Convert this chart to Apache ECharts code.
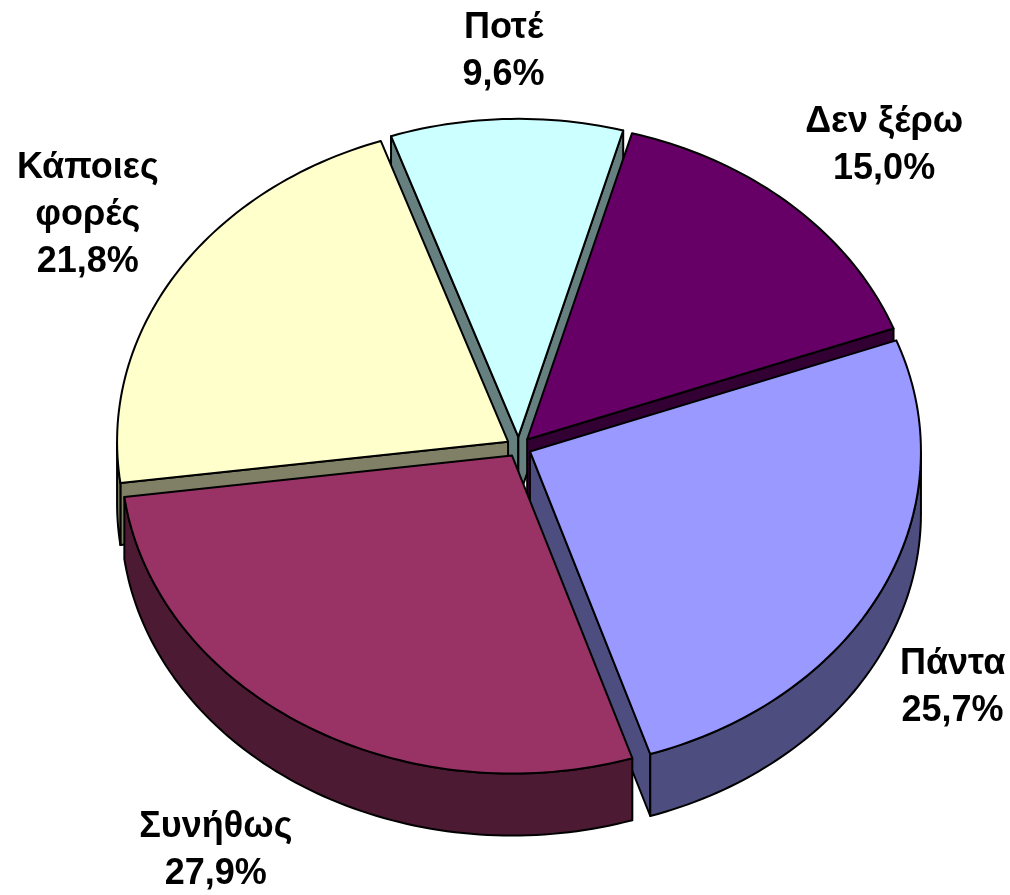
<!DOCTYPE html>
<html><head><meta charset="utf-8">
<script src="https://cdn.jsdelivr.net/npm/echarts@6/dist/echarts.min.js"></script>
<style>html,body{margin:0;padding:0;background:#fff}#c{width:1010px;height:895px}</style>
</head><body><div id="c"></div>
<script>
const categories = ['Ποτέ', 'Δεν ξέρω', 'Πάντα', 'Συνήθως', 'Κάποιες φορές'];
const values = [9.6, 15.0, 25.7, 27.9, 21.8];
const topColors = ['#CCFFFF', '#660066', '#9999FF', '#993366', '#FFFFCC'];
const sideColors = ['#668080', '#330033', '#4D4D80', '#4D1A33', '#808066'];

const chart = echarts.init(document.getElementById('c'), null, {renderer: 'canvas'});
const total = values.reduce((a, b) => a + b, 0);
const START = -19;            // first slice start, degrees clockwise from 12 o'clock
const CX = 518.7, CY = 447, RX = 391, RY = 318, DEPTH = 62, EXPLODE = 12.5;
const FONT_SIZE = 36, LINE_H = 47;
const FONT_FAMILY = 'Arial, "Liberation Sans", sans-serif';
const mctx = document.createElement('canvas').getContext('2d');
mctx.font = 'bold ' + FONT_SIZE + 'px ' + FONT_FAMILY;

const rad = d => d * Math.PI / 180;
const clamp = v => Math.max(-1, Math.min(1, v));

function renderItem(params, api) {
  const i = params.dataIndex;
  let cum = 0;
  for (let k = 0; k < i; k++) cum += values[k];
  const a0 = START + cum / total * 360;
  const a1 = START + (cum + values[i]) / total * 360;
  const am = (a0 + a1) / 2;
  const kk = RY / RX;
  const ox = CX + EXPLODE * Math.sin(rad(am));
  const oy = CY - EXPLODE * kk * Math.cos(rad(am));
  const rim = (a, dz) => [ox + RX * Math.sin(rad(a)), oy - RY * Math.cos(rad(a)) + (dz || 0)];
  const arc = (s, e, dz) => {
    const pts = [];
    const n = Math.max(2, Math.ceil(Math.abs(e - s) / 1.2));
    for (let j = 0; j <= n; j++) pts.push(rim(s + (e - s) * j / n, dz));
    return pts;
  };
  const strokeStyle = {stroke: '#000', lineWidth: 2, lineJoin: 'round'};
  const children = [];
  const maxY = pts => Math.max.apply(null, pts.map(p => p[1]));

  // outer wall (front-facing part only)
  [-360, 0, 360].forEach(off => {
    const s = Math.max(a0, 90 + off), e = Math.min(a1, 270 + off);
    if (e > s) {
      const pts = arc(s, e, 0).concat(arc(e, s, DEPTH));
      children.push({type: 'polygon', shape: {points: pts}, z2: maxY(pts),
        style: Object.assign({fill: sideColors[i]}, strokeStyle)});
    }
  });
  // radial faces
  const radial = a => {
    const r = rim(a);
    const pts = [[ox, oy], r, [r[0], r[1] + DEPTH], [ox, oy + DEPTH]];
    children.push({type: 'polygon', shape: {points: pts}, z2: maxY(pts) - 1,
      style: Object.assign({fill: sideColors[i]}, strokeStyle)});
  };
  if (Math.cos(rad(a0 - 90)) < 0) radial(a0);
  if (Math.cos(rad(a1 + 90)) < 0) radial(a1);
  // top face
  const topPts = [[ox, oy]].concat(arc(a0, a1, 0));
  children.push({type: 'polygon', shape: {points: topPts}, z2: 5000,
    style: Object.assign({fill: topColors[i]}, strokeStyle)});

  // label
  const name = categories[i];
  const nameTxt = name.length > 10 ? name.replace(' ', '\n') : name;
  const pct = values[i].toFixed(1).replace('.', ',') + '%';
  const lines = (nameTxt + '\n' + pct).split('\n');
  const w = Math.max.apply(null, lines.map(l => mctx.measureText(l).width));
  const h = lines.length * LINE_H;
  const s = Math.sin(rad(am)), c = Math.cos(rad(am));
  const r = rim(am, c < 0 ? DEPTH : 0);
  const ax = r[0] + 20 * s, ay = r[1] - 20 * c;
  const lx = ax + clamp(2 * s) * w / 2;
  const ly = ay - clamp(1.3 * c) * h / 2;
  children.push({type: 'text', z2: 6000, style: {
    text: lines.join('\n'), x: lx, y: ly, align: 'center', verticalAlign: 'middle',
    fontSize: FONT_SIZE, fontWeight: 'bold', fontFamily: FONT_FAMILY,
    lineHeight: LINE_H, fill: '#000'}});

  return {type: 'group', children: children};
}

chart.setOption({
  backgroundColor: '#ffffff',
  animation: false,
  series: [{
    type: 'custom',
    coordinateSystem: 'none',
    silent: true,
    renderItem: renderItem,
    data: values.map((v, i) => ({name: categories[i], value: v}))
  }]
});
</script>
</body></html>
